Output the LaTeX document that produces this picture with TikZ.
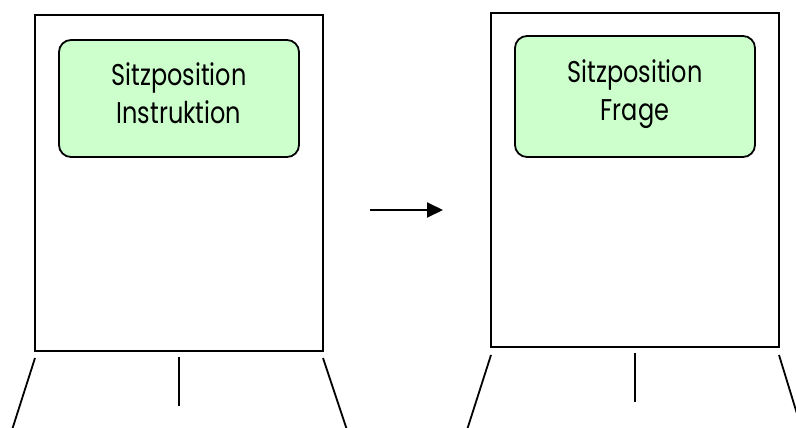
\documentclass[tikz,border=0pt]{standalone}
\usepackage{fontspec}
\setmainfont[FakeStretch=0.8]{Poppins}
\usetikzlibrary{arrows.meta,calc}
\definecolor{boxgreen}{HTML}{CCFFCC}
\tikzset{
  frame/.style={draw, line width=2pt, inner sep=0pt, minimum width=288pt},
  screen/.style={draw, fill=boxgreen, line width=1.8pt, rounded corners=12pt,
    inner sep=0pt, minimum width=240pt},
  caption/.style={align=center, font=\fontsize{30}{38}\selectfont, inner sep=0pt, anchor=north},
  leg/.style={line width=1.8pt},
  flow/.style={line width=2pt, -{Triangle[length=16pt,width=15pt]}}
}
\begin{document}
\begin{tikzpicture}[x=1pt,y=-1pt]
  \useasboundingbox (0,0) rectangle (796,428);
  % left stand
  \node[frame, minimum height=336pt] (frameL) at (179,183) {};
  \node[screen, minimum height=117pt] (boxL) at (179,98.5) {};
  \node[caption] (txtL) at (179,62) {Sitzposition\\Instruktion};
  \coordinate (lA) at (35,358);  \coordinate (lA2) at (12,430);
  \coordinate (lB) at (179,357); \coordinate (lB2) at (179,406);
  \coordinate (lC) at (323,358); \coordinate (lC2) at (347,430);
  \draw[leg] (lA) -- (lA2);
  \draw[leg] (lB) -- (lB2);
  \draw[leg] (lC) -- (lC2);
  % right stand
  \node[frame, minimum height=334pt] (frameR) at (635,180) {};
  \node[screen, minimum height=121pt] (boxR) at (635,96.5) {};
  \node[caption] (txtR) at (635,59) {Sitzposition\\Frage};
  \coordinate (rA) at (491,355);  \coordinate (rA2) at (467,430);
  \coordinate (rB) at (635,353);  \coordinate (rB2) at (635,402);
  \coordinate (rC) at (779,355);  \coordinate (rC2) at (802,430);
  \draw[leg] (rA) -- (rA2);
  \draw[leg] (rB) -- (rB2);
  \draw[leg] (rC) -- (rC2);
  % transition arrow
  \coordinate (arrS) at (370,210);
  \coordinate (arrE) at (443,210);
  \draw[flow] (arrS) -- (arrE);
\end{tikzpicture}
\end{document}
